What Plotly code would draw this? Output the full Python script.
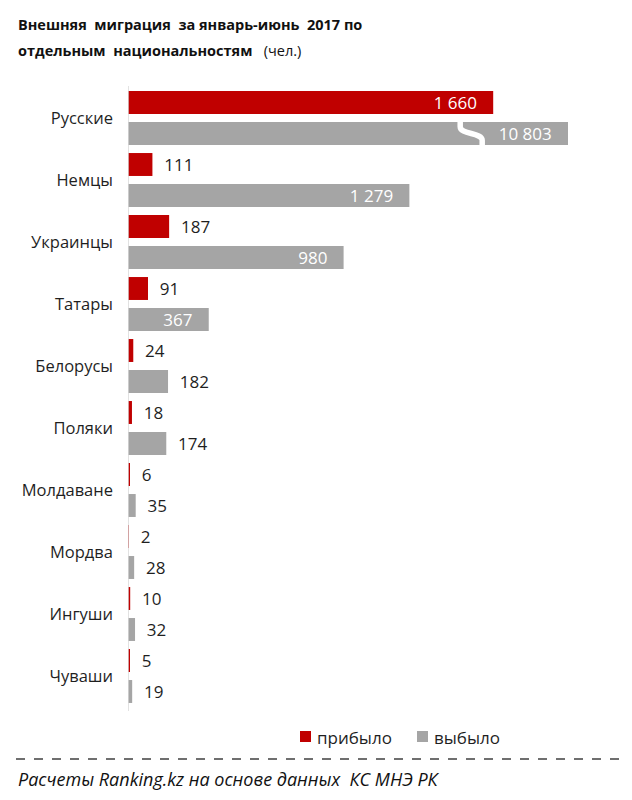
import plotly.graph_objects as go

categories = ["Русские", "Немцы", "Украинцы", "Татары", "Белорусы", "Поляки",
              "Молдаване", "Мордва", "Ингуши", "Чуваши"]
arrived = [1660, 111, 187, 91, 24, 18, 6, 2, 10, 5]
departed = [10803, 1279, 980, 367, 182, 174, 35, 28, 32, 19]
series_names = ["прибыло", "выбыло"]
title_line1 = "Внешняя\u00a0 миграция\u00a0 за январь-июнь\u00a0 2017 по"
title_line2 = "отдельным\u00a0 национальностям"
title_unit = "(чел.)"
source_text = "Расчеты Ranking.kz на основе данных\u00a0 КС МНЭ РК"

AXIS_CAP = 2000          # broken-axis cap for very long bars
INSIDE_MIN = 300         # values at/above this get labels inside the bar
RED = "#C00000"
GRAY = "#A5A5A5"
TXT = "#1f1f1f"
NB = "\u00a0"
FONT = "Open Sans"

def fmt(v):
    return f"{v:,}".replace(",", " ")

def labels(vals):
    return [fmt(v) + NB * 3 if v >= INSIDE_MIN else NB * 2 + fmt(v) for v in vals]

def positions(vals):
    return ["inside" if v >= INSIDE_MIN else "outside" for v in vals]

ypos = list(range(len(categories)))

# page has an 8px body margin; work in page pixels and convert
OFF = 8
W, H = 632 - OFF, 800 - OFF
PL, PR, PT, PB = 128, 600, 87, 707      # plot area in page pixels
L, T = PL - OFF, PT - OFF
R, B = W - (PR - OFF), H - (PB - OFF)
pw, ph = PR - PL, PB - PT

def px(xp):
    return (xp - PL) / pw

def py(yp):
    return (PB - yp) / ph

fig = go.Figure()
for name, vals, col in [(series_names[0], arrived, RED), (series_names[1], departed, GRAY)]:
    fig.add_trace(go.Bar(
        name=name,
        y=ypos,
        x=[min(v, AXIS_CAP) for v in vals],
        orientation="h",
        marker=dict(color=col, line=dict(width=0)),
        text=labels(vals),
        textposition=positions(vals),
        insidetextanchor="end",
        insidetextfont=dict(color="white", size=17, family=FONT),
        outsidetextfont=dict(color=TXT, size=17, family=FONT),
        cliponaxis=False,
        constraintext="none",
        hoverinfo="skip",
        showlegend=False,
    ))

shapes = []
# break mark on bars exceeding the cap
for i, v in enumerate(departed):
    if v > AXIS_CAP:
        xa = AXIS_CAP * 0.755
        xb = AXIS_CAP * 0.805
        yc = i + 0.25
        shapes.append(dict(
            type="path", xref="x", yref="y",
            path=(f"M {xa},{yc-0.22} L {xa},{yc-0.11} "
                  f"C {xa},{yc+0.02} {xb},{yc-0.02} {xb},{yc+0.11} L {xb},{yc+0.22}"),
            line=dict(color="white", width=5.5),
        ))

# axis line
shapes.append(dict(type="line", xref="x", yref="paper", x0=0, x1=0, y0=py(711), y1=py(86),
                   line=dict(color="#D9D9D9", width=1.5), layer="above"))
# dashed separator
shapes.append(dict(type="line", xref="paper", yref="paper",
                   x0=px(16), x1=px(628), y0=py(759), y1=py(759),
                   line=dict(color="#404040", width=1.3, dash="dash")))

# legend keys
legend_items = [(series_names[0], RED, 300), (series_names[1], GRAY, 417)]
annotations = []
for name, col, x0 in legend_items:
    shapes.append(dict(type="rect", xref="paper", yref="paper",
                       x0=px(x0), x1=px(x0 + 11), y0=py(742), y1=py(731),
                       fillcolor=col, line=dict(width=0)))
    annotations.append(dict(xref="paper", yref="paper", x=px(x0 + 15), y=py(737),
                            xanchor="left", yanchor="middle", showarrow=False,
                            text=name, font=dict(family=FONT, size=17, color=TXT)))

annotations += [
    dict(xref="paper", yref="paper", x=px(16), y=py(25),
         xanchor="left", yanchor="middle", showarrow=False, align="left",
         text=f"<b>{title_line1}</b>",
         font=dict(family=FONT, size=14.5, color="#111111")),
    dict(xref="paper", yref="paper", x=px(16), y=py(50),
         xanchor="left", yanchor="middle", showarrow=False, align="left",
         text=f"<b>{title_line2}</b>\u00a0\u00a0 {title_unit}",
         font=dict(family=FONT, size=14.5, color="#111111")),
    dict(xref="paper", yref="paper", x=px(16), y=py(779),
         xanchor="left", yanchor="middle", showarrow=False, align="left",
         text=f"<i>{source_text}</i>",
         font=dict(family=FONT, size=18, color="#111111")),
]

fig.update_layout(
    width=W, height=H,
    margin=dict(l=L, r=R, t=T, b=B, pad=0, autoexpand=False),
    paper_bgcolor="white", plot_bgcolor="white",
    barmode="group", bargap=0.0, bargroupgap=0.26,
    font=dict(family=FONT, color=TXT),
    xaxis=dict(range=[0, pw / 0.22], visible=False, fixedrange=True),
    yaxis=dict(range=[len(categories) - 0.5, -0.5], tickvals=ypos, ticktext=categories,
               showgrid=False, zeroline=False, showline=False, ticks="",
               ticklabelstandoff=14, tickfont=dict(size=16.5, color=TXT, family=FONT),
               fixedrange=True),
    showlegend=False,
    shapes=shapes,
    annotations=annotations,
)

fig.write_html("out.html")
